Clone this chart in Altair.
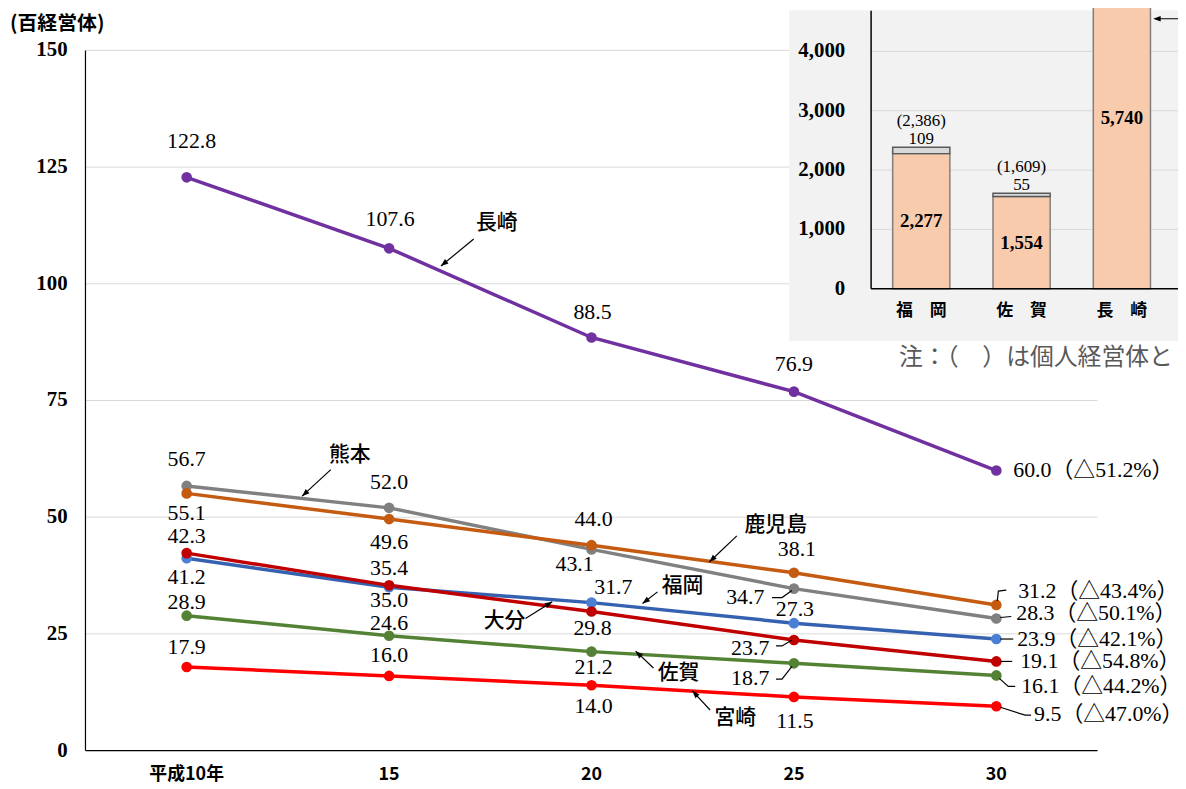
import math
import altair as alt
import pandas as pd

# ---------------- data ----------------
YEARS = [10, 15, 20, 25, 30]
YEAR_LABELS = ["平成10年", "15", "20", "25", "30"]
Y_TICKS = [0, 25, 50, 75, 100, 125, 150]
Y_TITLE = "(百経営体)"

SERIES = ["福岡", "熊本", "大分", "佐賀", "宮崎", "鹿児島", "長崎"]  # drawing order
NAGASAKI = [122.8, 107.6, 88.5, 76.9, 60.0]
KUMAMOTO = [56.7, 52.0, 43.1, 34.7, 28.3]
KAGOSHIMA = [55.1, 49.6, 44.0, 38.1, 31.2]
FUKUOKA = [41.2, 35.0, 31.7, 27.3, 23.9]
OITA = [42.3, 35.4, 29.8, 23.7, 19.1]
SAGA = [28.9, 24.6, 21.2, 18.7, 16.1]
MIYAZAKI = [17.9, 16.0, 14.0, 11.5, 9.5]
VALUES = {"長崎": NAGASAKI, "熊本": KUMAMOTO, "鹿児島": KAGOSHIMA, "福岡": FUKUOKA,
          "大分": OITA, "佐賀": SAGA, "宮崎": MIYAZAKI}
CHANGE_PCT = {"長崎": "51.2", "鹿児島": "43.4", "熊本": "50.1", "福岡": "42.1",
              "大分": "54.8", "佐賀": "44.2", "宮崎": "47.0"}

INSET_PREFS = ["福　岡", "佐　賀", "長　崎"]
INSET_MAIN = [2277, 1554, 5740]
INSET_OTHER = [109, 55, None]
INSET_TICKS = [0, 1000, 2000, 3000, 4000]
NOTE = "注：（　）は個人経営体と"

# ---------------- styles / layout ----------------
LINE_COLORS = {"長崎": "#7030A0", "熊本": "#808080", "鹿児島": "#C55A11", "福岡": "#3562B0",
               "大分": "#C00000", "佐賀": "#548235", "宮崎": "#FF0000"}
POINT_COLORS = dict(LINE_COLORS, 福岡="#4A7FD4")
NUM_FONT = "Liberation Serif, Noto Sans CJK JP"
JP_FONT = "Noto Sans CJK JP"

W, H = 1019, 705
X_DOMAIN = [7.5, 32.5]
Y_DOMAIN = [0, 150]
PXY = W / (X_DOMAIN[1] - X_DOMAIN[0])
PXV = H / (Y_DOMAIN[1] - Y_DOMAIN[0])

# label offsets in px (dx, dy) per series and year; last one is the end label
LABEL_OFFSETS = {
    "長崎": [(5, -37), (1, -29), (1, -26), (0, -28), (17, 0)],
    "熊本": [(0, -27), (0, -26), (-17, 15), (-49, 8), (20, -5)],
    "鹿児島": [(0, 20), (0, 23), (2, -26), (3, -24), (22, -14)],
    "福岡": [(0, 19), (0, 13), (22, -16), (1, -14), (21, 0)],
    "大分": [(0, -17), (0, -17), (1, 17), (-44, 8), (24, 0)],
    "佐賀": [(0, -14), (0, -13), (2, 16), (-44, 15), (25, 11)],
    "宮崎": [(0, -20), (0, -21), (2, 21), (1, 24), (38, 8)],
}
# leader polylines, px offsets from the data point
LEADERS = {
    ("熊本", 25): [(-22, 9), (-12, 9), (-2, 2)],
    ("大分", 25): [(-18, 6), (-12, 6), (-2, 0)],
    ("佐賀", 25): [(-18, 16), (-12, 16), (-2, 3)],
    ("鹿児島", 30): [(1, -4), (2, -14), (10, -15)],
    ("熊本", 30): [(4, -1), (15, -2)],
    ("福岡", 30): [(4, 0), (17, 0)],
    ("大分", 30): [(4, 0), (16, 0)],
    ("佐賀", 30): [(3, 3), (12, 11), (19, 11)],
    ("宮崎", 30): [(4, 1), (29, 9), (35, 9)],
}
# callout names (data coords) and their arrows (start -> tip)
CALLOUTS = [("長崎", 17.66, 113.0), ("熊本", 14.03, 63.4), ("鹿児島", 24.55, 48.3),
            ("福岡", 22.25, 35.3), ("大分", 17.85, 27.7), ("佐賀", 22.15, 16.6),
            ("宮崎", 23.55, 7.0)]
ARROWS = [(17.09, 109.6, 16.28, 103.8), (13.56, 60.2, 12.85, 54.5),
          (23.59, 46.0, 22.91, 40.4), (21.63, 34.0, 21.26, 31.5),
          (18.37, 28.3, 19.03, 31.9), (21.53, 17.7, 21.09, 21.3),
          (22.93, 8.7, 22.49, 12.8)]
ARROW_PATH = "M0,0L-0.6,1.6L0.6,1.6Z"

# ---------------- tables ----------------
pts = pd.DataFrame([{"series": s, "year": y, "value": v}
                    for s in SERIES for y, v in zip(YEARS, VALUES[s])])

lab_rows, end_rows = [], []
for s in SERIES:
    for i, (y, v) in enumerate(zip(YEARS, VALUES[s])):
        dx, dy = LABEL_OFFSETS[s][i]
        if i == len(YEARS) - 1:
            end_rows.append({"year": y, "value": v, "dx": dx, "dy": dy,
                             "text": f"{v:.1f}（△{CHANGE_PCT[s]}%）"})
        else:
            lab_rows.append({"year": y, "value": v, "dx": dx, "dy": dy, "text": f"{v:.1f}"})
labs = pd.DataFrame(lab_rows)
ends = pd.DataFrame(end_rows)

lead_rows = []
for k, ((s, yr), path) in enumerate(LEADERS.items()):
    v0 = VALUES[s][YEARS.index(yr)]
    for j, (dx, dy) in enumerate(path):
        lead_rows.append({"id": k, "idx": j, "year": yr + dx / PXY, "value": v0 - dy / PXV})
leads = pd.DataFrame(lead_rows)

calls = pd.DataFrame([{"text": t, "year": x, "value": y} for t, x, y in CALLOUTS])
arr_rows = []
for x0, y0, x1, y1 in ARROWS:
    ang = math.degrees(math.atan2((x1 - x0) * PXY, (y1 - y0) * PXV)) % 360
    arr_rows.append({"year": x0, "value": y0, "year2": x1, "value2": y1, "ang": ang})
arrs = pd.DataFrame(arr_rows)

yt = pd.DataFrame({"t": Y_TICKS, "text": [str(t) for t in Y_TICKS]})
xt = pd.DataFrame({"year": YEARS, "text": YEAR_LABELS})
span = pd.DataFrame({"lo": [Y_DOMAIN[0]], "hi": [Y_TICKS[-1]]})

inset_main = pd.DataFrame({"pref": INSET_PREFS, "lo": [0] * 3, "hi": INSET_MAIN,
                           "mid": [v / 2 for v in INSET_MAIN],
                           "text": [f"{v:,}" for v in INSET_MAIN]})
other_rows = [{"pref": p, "lo": m, "hi": m + o, "otext": f"{o}", "ttext": f"({m + o:,})"}
              for p, m, o in zip(INSET_PREFS, INSET_MAIN, INSET_OTHER) if o]
inset_other = pd.DataFrame(other_rows)
inset_ticks = pd.DataFrame({"t": INSET_TICKS, "text": [f"{t:,}" for t in INSET_TICKS]})

# ---------------- encodings ----------------
x_scale = alt.Scale(domain=X_DOMAIN, nice=False, zero=False)
y_scale = alt.Scale(domain=Y_DOMAIN, nice=False, zero=False)


def X(field):
    return alt.X(field, type="quantitative", scale=x_scale, axis=None)


def Y(field):
    return alt.Y(field, type="quantitative", scale=y_scale, axis=None)


# ---------------- main grid (below the inset) ----------------
grid = alt.Chart(yt[yt.t > 0]).mark_rule(color="#d9d9d9", strokeWidth=1).encode(
    y=Y("t"), x=alt.value(0), x2=alt.value(W))

# ---------------- main chart ----------------
main_layers = []
for s in SERIES:
    d = pts[pts.series == s]
    main_layers.append(
        alt.Chart(d).mark_line(color=LINE_COLORS[s], strokeWidth=3.5).encode(
            x=X("year"), y=Y("value")))

points = alt.Chart(pts).mark_circle(size=115, opacity=1).encode(
    x=X("year"), y=Y("value"),
    color=alt.Color("series:N", scale=alt.Scale(domain=SERIES,
                                                range=[POINT_COLORS[s] for s in SERIES]),
                    legend=None))

leaders = alt.Chart(leads).mark_line(color="black", strokeWidth=1.2).encode(
    x=X("year"), y=Y("value"), detail="id:N", order="idx:Q")

labels = alt.Chart(labs).mark_text(
    font=NUM_FONT, fontSize=22, color="black", align="center", baseline="middle",
    dx=alt.ExprRef("datum.dx"), dy=alt.ExprRef("datum.dy")).encode(
    x=X("year"), y=Y("value"), text="text:N")

end_labels = alt.Chart(ends).mark_text(
    font=NUM_FONT, fontSize=22, color="black", align="left", baseline="middle",
    dx=alt.ExprRef("datum.dx"), dy=alt.ExprRef("datum.dy")).encode(
    x=X("year"), y=Y("value"), text="text:N")

call_text = alt.Chart(calls).mark_text(
    font=JP_FONT, fontSize=21, fontWeight=500, color="black", align="center",
    baseline="middle").encode(x=X("year"), y=Y("value"), text="text:N")

arrow_lines = alt.Chart(arrs).mark_rule(color="black", strokeWidth=1.2).encode(
    x=X("year"), y=Y("value"), x2="year2:Q", y2="value2:Q")

arrow_heads = alt.Chart(arrs).mark_point(shape=ARROW_PATH, size=90, filled=True,
                                         color="black", opacity=1).encode(
    x=X("year2"), y=Y("value2"), angle=alt.Angle("ang:Q", scale=None))

# axes drawn as marks
y_dom = alt.Chart(span).mark_rule(color="black", strokeWidth=1.2).encode(
    x=alt.value(0), y=Y("lo"), y2="hi:Q")
x_dom = alt.Chart(span).mark_rule(color="black", strokeWidth=1.2).encode(
    y=Y("lo"), x=alt.value(0), x2=alt.value(W))
y_lab = alt.Chart(yt).mark_text(font=NUM_FONT, fontSize=21, fontWeight="bold", color="black",
                                align="right", baseline="middle").encode(
    y=Y("t"), x=alt.value(-18), text="text:N")
x_lab = alt.Chart(xt).mark_text(font=JP_FONT, fontSize=18, fontWeight="bold", color="black",
                                align="center", baseline="middle").encode(
    x=X("year"), y=alt.value(H + 25), text="text:N")
y_title = alt.Chart(pd.DataFrame({"text": [Y_TITLE]})).mark_text(
    font=JP_FONT, fontSize=20, fontWeight="bold", color="black", align="left",
    baseline="middle").encode(x=alt.value(-76), y=alt.value(-27), text="text:N")

main = alt.layer(y_dom, x_dom, y_lab, x_lab, y_title, *main_layers, points, leaders, labels,
                 end_labels, call_text, arrow_lines, arrow_heads)

# ---------------- inset ----------------
ix = alt.X("pref:N", scale=alt.Scale(domain=INSET_PREFS, range=[791, 1094],
                                     paddingInner=0.43, paddingOuter=0.215), axis=None)


def IY(field):
    return alt.Y(field, type="quantitative",
                 scale=alt.Scale(domain=[0, 4000], range=[240, 1], nice=False, zero=False),
                 axis=None)


bg = alt.Chart(inset_ticks).mark_rect(color="#f2f2f2").encode(
    x=alt.value(709), x2=alt.value(1200), y=alt.value(-40), y2=alt.value(292))

igrid = alt.Chart(inset_ticks[inset_ticks.t > 0]).mark_rule(color="#d9d9d9", strokeWidth=1).encode(
    y=IY("t"), x=alt.value(791), x2=alt.value(1200))

bars = alt.Chart(inset_main).mark_bar(fill="#F8CBAD", stroke="#7f7f7f", strokeWidth=1.5).encode(
    x=ix, y=IY("lo"), y2="hi:Q")

bars2 = alt.Chart(inset_other).mark_bar(fill="#D9D9D9", stroke="#595959", strokeWidth=1.5).encode(
    x=ix, y=IY("lo"), y2="hi:Q")

ivaxis = alt.Chart(inset_ticks[inset_ticks.t == 0]).mark_rule(color="black", strokeWidth=1.5).encode(
    x=alt.value(791), y=IY("t"), y2=alt.value(-40))
ihaxis = alt.Chart(inset_ticks[inset_ticks.t == 0]).mark_rule(color="black", strokeWidth=1.5).encode(
    y=IY("t"), x=alt.value(791), x2=alt.value(1200))

iylab = alt.Chart(inset_ticks).mark_text(font=NUM_FONT, fontSize=21, fontWeight="bold",
                                         color="black", align="right", baseline="middle").encode(
    y=IY("t"), x=alt.value(765), text="text:N")

ixlab = alt.Chart(inset_main).mark_text(font=JP_FONT, fontSize=17, fontWeight="bold",
                                        color="black", align="center", baseline="middle").encode(
    x=ix, y=alt.value(262), text="pref:N")

imid = alt.Chart(inset_main).mark_text(font=NUM_FONT, fontSize=19, fontWeight="bold",
                                       color="black", align="center", baseline="middle").encode(
    x=ix, y=IY("mid"), text="text:N")

iother = alt.Chart(inset_other).mark_text(font=NUM_FONT, fontSize=17, color="black",
                                          align="center", baseline="middle", dy=-8).encode(
    x=ix, y=IY("hi"), text="otext:N")

itotal = alt.Chart(inset_other).mark_text(font=NUM_FONT, fontSize=17, color="black",
                                          align="center", baseline="middle", dy=-26).encode(
    x=ix, y=IY("hi"), text="ttext:N")

iarrow = alt.Chart(pd.DataFrame({"v": [4550]})).mark_rule(color="black", strokeWidth=1.2).encode(
    y=IY("v"), x=alt.value(1080), x2=alt.value(1200))
iarrowhead = alt.Chart(pd.DataFrame({"v": [4550]})).mark_point(
    shape=ARROW_PATH, size=90, filled=True, color="black", opacity=1, angle=270).encode(
    y=IY("v"), x=alt.value(1075))

note = alt.Chart(pd.DataFrame({"text": [NOTE]})).mark_text(
    font=JP_FONT, fontSize=24, color="#595959", align="left", baseline="middle").encode(
    x=alt.value(819), y=alt.value(310), text="text:N")

inset = alt.layer(bg, igrid, bars, bars2, ivaxis, ihaxis, iylab, ixlab, imid, iother, itotal,
                  iarrow, iarrowhead, note)

chart = alt.layer(grid, inset, main).resolve_scale(x="independent", y="independent").properties(
    width=W, height=H,
    autosize=alt.AutoSizeParams(type="none"),
    padding={"left": 78, "top": 40, "right": 81, "bottom": 36},
    background="white",
).configure_view(stroke=None)

chart.save("out.html", embed_options={"renderer": "svg", "actions": False})
